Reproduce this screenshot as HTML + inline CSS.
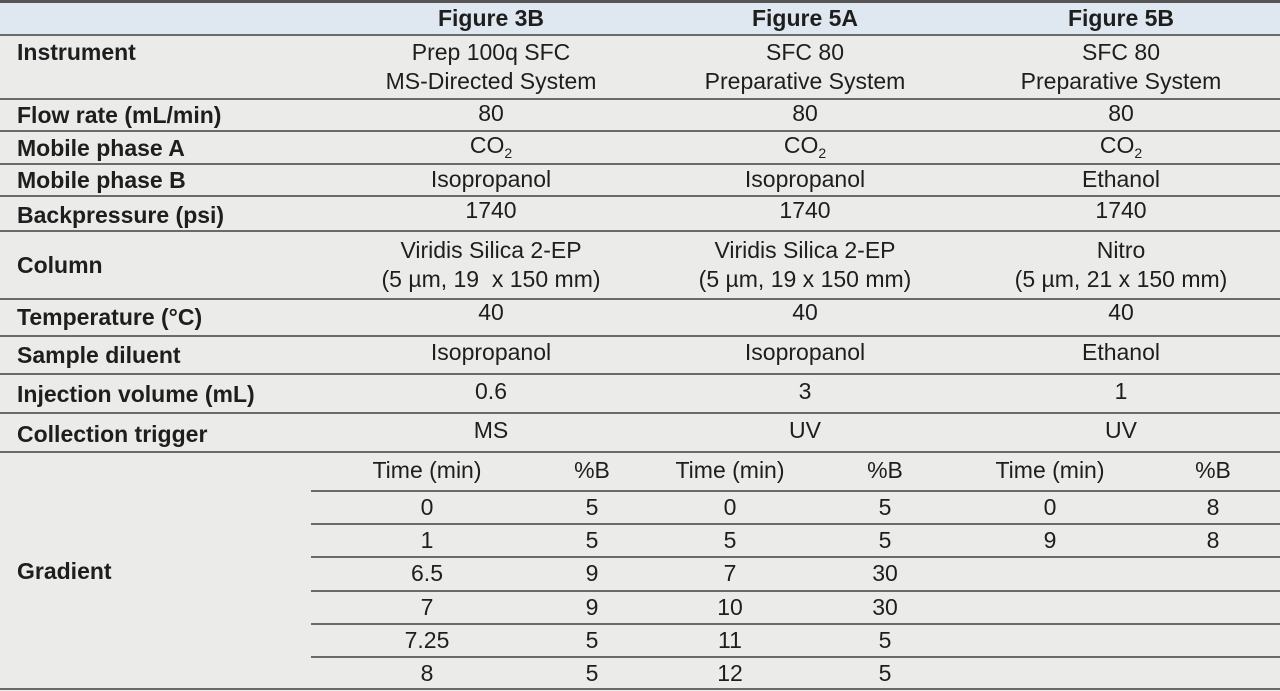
<!DOCTYPE html>
<html><head><meta charset="utf-8"><style>
html,body{margin:0;padding:0}
body{width:1280px;height:691px;position:relative;background:#ebebea;overflow:hidden;font-family:"Liberation Sans Narrow","Liberation Sans",sans-serif;color:#1e1e1e;font-size:23px}
.hdr{position:absolute;left:0;top:0;width:1280px;height:35px;background:#dfe8f0;border-top:3px solid #555;box-sizing:border-box}
.ln{position:absolute;height:2px;background:#6a6a6a;right:0}
.t{position:absolute;white-space:nowrap;line-height:29px}
.l{left:17px;font-weight:bold}
.c{transform:translateX(-50%);text-align:center}
.b{font-weight:bold}
sub{font-size:14px;vertical-align:-5px;line-height:0}
</style></head><body>
<div class="hdr"></div>
<div class="ln" style="left:0;top:34px"></div>
<div class="ln" style="left:0;top:98px"></div>
<div class="ln" style="left:0;top:130px"></div>
<div class="ln" style="left:0;top:163px"></div>
<div class="ln" style="left:0;top:195px"></div>
<div class="ln" style="left:0;top:230px"></div>
<div class="ln" style="left:0;top:298px"></div>
<div class="ln" style="left:0;top:335px"></div>
<div class="ln" style="left:0;top:373px"></div>
<div class="ln" style="left:0;top:412px"></div>
<div class="ln" style="left:0;top:451px"></div>
<div class="ln" style="left:311px;top:490px"></div>
<div class="ln" style="left:311px;top:523px"></div>
<div class="ln" style="left:311px;top:556px"></div>
<div class="ln" style="left:311px;top:590px"></div>
<div class="ln" style="left:311px;top:623px"></div>
<div class="ln" style="left:311px;top:656px"></div>
<div class="ln" style="left:0;top:688px"></div>

<div class="t c b" style="left:491px;top:4px">Figure 3B</div>
<div class="t c b" style="left:805px;top:4px">Figure 5A</div>
<div class="t c b" style="left:1121px;top:4px">Figure 5B</div>

<div class="t l" style="top:38px">Instrument</div>
<div class="t c" style="left:491px;top:38px;line-height:29px">Prep 100q SFC<br>MS-Directed System</div>
<div class="t c" style="left:805px;top:38px">SFC 80<br>Preparative System</div>
<div class="t c" style="left:1121px;top:38px">SFC 80<br>Preparative System</div>

<div class="t l" style="top:101px">Flow rate (mL/min)</div>
<div class="t c" style="left:491px;top:99px">80</div>
<div class="t c" style="left:805px;top:99px">80</div>
<div class="t c" style="left:1121px;top:99px">80</div>

<div class="t l" style="top:134px">Mobile phase A</div>
<div class="t c" style="left:491px;top:131px">CO<sub>2</sub></div>
<div class="t c" style="left:805px;top:131px">CO<sub>2</sub></div>
<div class="t c" style="left:1121px;top:131px">CO<sub>2</sub></div>

<div class="t l" style="top:166px">Mobile phase B</div>
<div class="t c" style="left:491px;top:165px">Isopropanol</div>
<div class="t c" style="left:805px;top:165px">Isopropanol</div>
<div class="t c" style="left:1121px;top:165px">Ethanol</div>

<div class="t l" style="top:201px">Backpressure (psi)</div>
<div class="t c" style="left:491px;top:196px">1740</div>
<div class="t c" style="left:805px;top:196px">1740</div>
<div class="t c" style="left:1121px;top:196px">1740</div>

<div class="t l" style="top:251px">Column</div>
<div class="t c" style="left:491px;top:236px">Viridis Silica 2-EP<br>(5 µm, 19&nbsp; x 150 mm)</div>
<div class="t c" style="left:805px;top:236px">Viridis Silica 2-EP<br>(5 µm, 19 x 150 mm)</div>
<div class="t c" style="left:1121px;top:236px">Nitro<br>(5 µm, 21 x 150 mm)</div>

<div class="t l" style="top:303px">Temperature (°C)</div>
<div class="t c" style="left:491px;top:298px">40</div>
<div class="t c" style="left:805px;top:298px">40</div>
<div class="t c" style="left:1121px;top:298px">40</div>

<div class="t l" style="top:341px">Sample diluent</div>
<div class="t c" style="left:491px;top:338px">Isopropanol</div>
<div class="t c" style="left:805px;top:338px">Isopropanol</div>
<div class="t c" style="left:1121px;top:338px">Ethanol</div>

<div class="t l" style="top:380px">Injection volume (mL)</div>
<div class="t c" style="left:491px;top:377px">0.6</div>
<div class="t c" style="left:805px;top:377px">3</div>
<div class="t c" style="left:1121px;top:377px">1</div>

<div class="t l" style="top:420px">Collection trigger</div>
<div class="t c" style="left:491px;top:416px">MS</div>
<div class="t c" style="left:805px;top:416px">UV</div>
<div class="t c" style="left:1121px;top:416px">UV</div>

<div class="t l" style="top:557px">Gradient</div>
<div id="grad"></div>
<script>
const timeCols=[427,730,1050];
const pctCols=[592,885,1213];
const times3B=["0","1","6.5","7","7.25","8"];
const pct3B=["5","5","9","9","5","5"];
const times5A=["0","5","7","10","11","12"];
const pct5A=["5","5","30","30","5","5"];
const times5B=["0","9"];
const pct5B=["8","8"];
const T=[times3B,times5A,times5B],P=[pct3B,pct5A,pct5B];
const g=document.getElementById('grad');
function add(txt,x,y){
  const d=document.createElement('div');
  d.className='t c';
  d.style.left=x+'px';d.style.top=y+'px';
  d.textContent=txt;
  
  
  g.appendChild(d);
}
for(let k=0;k<3;k++){
  add('Time (min)',timeCols[k],456);
  add('%B',pctCols[k],456);
  for(let i=0;i<T[k].length;i++){
    add(T[k][i],timeCols[k],493+i*33.2);
    add(P[k][i],pctCols[k],493+i*33.2);
  }
}
</script>
</body></html>
